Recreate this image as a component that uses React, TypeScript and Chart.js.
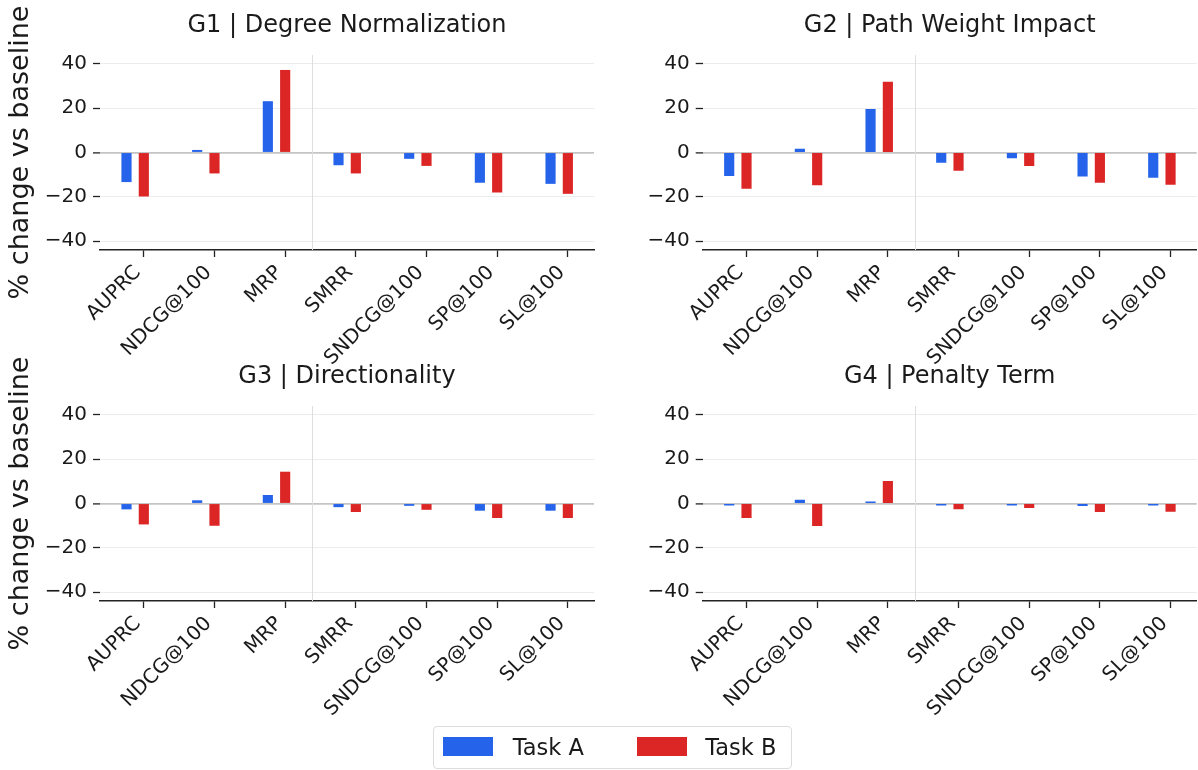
import React, { useEffect, useRef } from 'react';
import { Chart, registerables } from 'chart.js';

Chart.register(...registerables);

const categories = ['AUPRC', 'NDCG@100', 'MRP', 'SMRR', 'SNDCG@100', 'SP@100', 'SL@100'];
const yTickValues = [-40, -20, 0, 20, 40];
const seriesNames = ['Task A', 'Task B'];

const g1TaskA = [-13.2, 1.0, 23.0, -5.6, -2.7, -13.5, -14.0];
const g1TaskB = [-19.7, -9.3, 37.1, -9.3, -5.9, -17.9, -18.5];
const g2TaskA = [-10.5, 1.5, 19.5, -4.5, -2.4, -10.7, -11.3];
const g2TaskB = [-16.2, -14.6, 31.8, -8.1, -5.9, -13.5, -14.4];
const g3TaskA = [-2.5, 1.3, 3.7, -1.5, -0.9, -3.1, -3.1];
const g3TaskB = [-9.3, -9.9, 14.2, -3.7, -2.7, -6.4, -6.4];
const g4TaskA = [-0.7, 1.5, 0.7, -0.7, -0.7, -1.0, -0.7];
const g4TaskB = [-6.4, -10.0, 10.0, -2.5, -1.9, -3.7, -3.6];

const panelTitles = [
  'G1 | Degree Normalization',
  'G2 | Path Weight Impact',
  'G3 | Directionality',
  'G4 | Penalty Term',
];
const yAxisTitle = '% change vs baseline';

const BLUE = '#2563eb';
const RED = '#dc2626';
const FONT = "'DejaVu Sans', sans-serif";
const TEXT = '#1a1a1a';

// x-axis layout (category index units)
const X_MIN = -0.62;
const X_MAX = 6.37;
const TASK_A_SHIFT = -0.245;
const DIVIDER_X = 2.38;
const Y_MIN = -44;
const Y_MAX = 44;

const dividerPlugin = {
  id: 'divider',
  beforeDatasetsDraw(chart: any) {
    const { ctx, chartArea, scales } = chart;
    const x = scales.x.getPixelForValue(DIVIDER_X);
    ctx.save();
    ctx.strokeStyle = '#dedede';
    ctx.lineWidth = 1;
    ctx.beginPath();
    ctx.moveTo(Math.round(x) + 0.5, chartArea.top);
    ctx.lineTo(Math.round(x) + 0.5, chartArea.bottom);
    ctx.stroke();
    ctx.restore();
  },
};

type PanelProps = {
  title: string;
  a: number[];
  b: number[];
  showYTitle: boolean;
  left: number;
  top: number;
  width: number;
  height: number;
  yAxisWidth: number;
  padRight: number;
  xAxisHeight: number;
};

function Panel(p: PanelProps) {
  const ref = useRef<HTMLCanvasElement>(null);
  useEffect(() => {
    if (!ref.current) return;
    const chart = new Chart(ref.current, {
      type: 'bar',
      data: {
        datasets: [
          {
            label: seriesNames[0],
            data: p.a.map((v, i) => ({ x: i + TASK_A_SHIFT, y: v })),
            backgroundColor: BLUE,
            borderWidth: 0,
            barThickness: 9.5,
            grouped: false,
          } as any,
          {
            label: seriesNames[1],
            data: p.b.map((v, i) => ({ x: i, y: v })),
            backgroundColor: RED,
            borderWidth: 0,
            barThickness: 9.5,
            grouped: false,
          } as any,
        ],
      },
      options: {
        responsive: false,
        animation: false,
        devicePixelRatio: 1,
        layout: { padding: { left: 0, right: p.padRight, top: 0, bottom: 0 } },
        plugins: {
          legend: { display: false },
          tooltip: { enabled: false },
          title: {
            display: true,
            text: p.title,
            fullSize: false,
            color: TEXT,
            font: { family: FONT, size: 24, weight: 'normal' as any },
            padding: { top: 11, bottom: 15.2 },
          },
        },
        scales: {
          x: {
            type: 'linear',
            min: X_MIN,
            max: X_MAX,
            offset: false,
            afterBuildTicks: (s: any) => {
              s.ticks = categories.map((_, i) => ({ value: i }));
            },
            afterFit: (s: any) => {
              s.height = p.xAxisHeight;
            },
            grid: {
              display: true,
              offset: false,
              drawOnChartArea: false,
              drawTicks: true,
              tickLength: 7,
              tickColor: '#222',
              tickWidth: 1.3,
            },
            border: { display: true, color: '#222', width: 1.5 },
            ticks: {
              autoSkip: false,
              maxRotation: 45,
              minRotation: 45,
              padding: 4,
              labelOffset: -6,
              color: TEXT,
              font: { family: FONT, size: 20 },
              callback: (v: any) => categories[Math.round(Number(v))] ?? '',
            },
          },
          y: {
            type: 'linear',
            min: Y_MIN,
            max: Y_MAX,
            afterBuildTicks: (s: any) => {
              s.ticks = yTickValues.map((v) => ({ value: v }));
            },
            afterFit: (s: any) => {
              s.width = p.yAxisWidth;
            },
            grid: {
              color: (c: any) => (c.tick && c.tick.value === 0 ? '#c4c4c4' : '#ececec'),
              lineWidth: (c: any) => (c.tick && c.tick.value === 0 ? 1.8 : 1),
              drawTicks: true,
              tickLength: 7,
              tickColor: '#222',
              tickWidth: 1.3,
            },
            border: { display: false },
            ticks: {
              padding: 6,
              color: TEXT,
              font: { family: FONT, size: 20 },
              callback: (v: any) => (Number(v) < 0 ? '\u2212' + Math.abs(Number(v)) : String(v)),
            },
            title: {
              display: p.showYTitle,
              text: yAxisTitle,
              color: TEXT,
              font: { family: FONT, size: 27 },
              padding: { top: 5, bottom: 0 },
            },
          },
        },
      },
      plugins: [dividerPlugin],
    } as any);
    return () => chart.destroy();
  }, []);
  return (
    <canvas
      ref={ref}
      width={p.width}
      height={p.height}
      style={{ position: 'absolute', left: p.left, top: p.top, width: p.width, height: p.height }}
    />
  );
}

export default function App() {
  const patch = (color: string, left: number) => (
    <div style={{ position: 'absolute', left, top: 10, width: 50, height: 19, background: color }} />
  );
  const label = (text: string, left: number) => (
    <div
      style={{
        position: 'absolute',
        left,
        top: 0,
        height: 41,
        lineHeight: '41px',
        fontSize: 22.5,
        color: TEXT,
        fontFamily: FONT,
        whiteSpace: 'nowrap',
      }}
    >
      {text}
    </div>
  );
  return (
    <div
      style={{
        position: 'fixed',
        left: 0,
        top: 0,
        width: 1198,
        height: 770,
        background: '#ffffff',
        fontFamily: FONT,
        overflow: 'hidden',
      }}
    >
      <Panel title={panelTitles[0]} a={g1TaskA} b={g1TaskB} showYTitle={true}
        left={0} top={0} width={600} height={390} yAxisWidth={100} padRight={6} xAxisHeight={140} />
      <Panel title={panelTitles[1]} a={g2TaskA} b={g2TaskB} showYTitle={false}
        left={600} top={0} width={598} height={390} yAxisWidth={102.7} padRight={1.3} xAxisHeight={140} />
      <Panel title={panelTitles[2]} a={g3TaskA} b={g3TaskB} showYTitle={true}
        left={0} top={351} width={600} height={419} yAxisWidth={100} padRight={6} xAxisHeight={169} />
      <Panel title={panelTitles[3]} a={g4TaskA} b={g4TaskB} showYTitle={false}
        left={600} top={351} width={598} height={419} yAxisWidth={102.7} padRight={1.3} xAxisHeight={169} />
      <div
        style={{
          position: 'absolute',
          left: 433,
          top: 726,
          width: 357,
          height: 41,
          border: '1px solid #dcdcdc',
          borderRadius: 4,
          background: '#fff',
        }}
      >
        {patch(BLUE, 8.5)}
        {label(seriesNames[0], 78.7)}
        {patch(RED, 202.5)}
        {label(seriesNames[1], 271.3)}
      </div>
    </div>
  );
}
